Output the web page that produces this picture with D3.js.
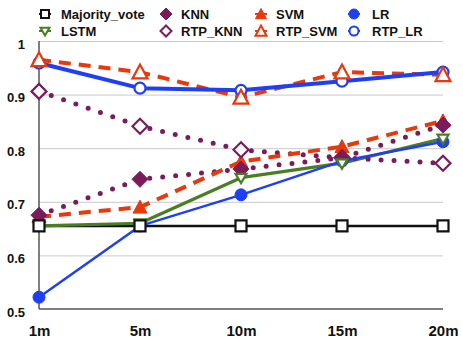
<!DOCTYPE html>
<html>
<head>
<meta charset="utf-8">
<script src="https://cdn.jsdelivr.net/npm/d3@7"></script>
<style>
  html, body { margin: 0; padding: 0; background: #fff; }
  svg { display: block; font-family: "Liberation Sans", Arial, Helvetica, sans-serif; font-weight: bold; }
</style>
</head>
<body>
<svg id="chart" width="463" height="339"></svg>
<script>
// Time windows on the x axis
const windows = ["1m", "5m", "10m", "15m", "20m"];
const yTicks = [0.5, 0.6, 0.7, 0.8, 0.9, 1];

// Accuracy per model and window
const majorityVote = [0.655, 0.655, 0.655, 0.655, 0.655];
const lstm   = [0.655, 0.660, 0.745, 0.772, 0.818];
const knn    = [0.675, 0.742, 0.761, 0.782, 0.843];
const rtpKnn = [0.906, 0.841, 0.797, 0.782, 0.772];
const svm    = [0.672, 0.690, 0.775, 0.803, 0.851];
const rtpSvm = [0.965, 0.942, 0.895, 0.942, 0.937];
const lr     = [0.522, 0.655, 0.713, 0.776, 0.812];
const rtpLr  = [0.959, 0.912, 0.908, 0.925, 0.942];

const C = { black: "#111", green: "#4a7d24", purple: "#7a1c5c", red: "#e8390e", blue: "#1f3ff6" };

// Series styles: line look and marker look
const series = [
  { name: "Majority_vote", values: majorityVote, color: C.black, width: 2.5, dash: null, shape: "square", filled: false, ms: 11, ls: 8 },
  { name: "LSTM", values: lstm, color: C.green, width: 3.2, dash: null, shape: "tridown", filled: false, ms: 11, ls: 9 },
  { name: "KNN", values: knn, color: C.purple, width: 5, dash: "0 13", cap: "round", shape: "diamond", filled: true, ms: 16, ls: 12 },
  { name: "RTP_KNN", values: rtpKnn, color: C.purple, width: 5, dash: "0 13", cap: "round", shape: "diamond", filled: false, ms: 15, ls: 11 },
  { name: "SVM", values: svm, color: C.red, width: 4, dash: "12 8", shape: "triup", filled: true, ms: 14, ls: 11 },
  { name: "RTP_SVM", values: rtpSvm, color: C.red, width: 4, dash: "12 8", shape: "triup", filled: false, ms: 15, ls: 11 },
  { name: "LR", values: lr, color: C.blue, width: 2.5, dash: null, shape: "circle", filled: true, ms: 12, ls: 10 },
  { name: "RTP_LR", values: rtpLr, color: C.blue, width: 4, dash: null, shape: "circle", filled: false, ms: 11, ls: 9 }
];

const svg = d3.select("#chart");
const x = d3.scalePoint().domain(windows).range([39, 443]);
const y = d3.scaleLinear().domain([0.5, 1]).range([309, 41]);

// Gridlines
svg.append("g")
  .attr("transform", "translate(39,0)")
  .call(d3.axisLeft(y).tickValues(yTicks.filter(t => t > 0.5)).tickSize(-404).tickFormat(""))
  .call(g => g.select(".domain").remove())
  .call(g => g.selectAll(".tick line").attr("stroke", "#c9c9c9").attr("stroke-width", 1));

// Y axis labels
svg.append("g")
  .attr("transform", "translate(25,0)")
  .call(d3.axisLeft(y).tickValues(yTicks).tickSize(0).tickPadding(0).tickFormat(d => d === 1 ? "1" : d3.format(".1f")(d)))
  .call(g => g.select(".domain").remove())
  .call(g => g.selectAll("text").attr("font-size", 13).attr("font-family", "Liberation Sans, Arial, sans-serif")
    .attr("font-weight", "bold").attr("fill", "#111").attr("dy", "0.55em"));

// X axis labels
svg.append("g")
  .attr("transform", "translate(0,309)")
  .call(d3.axisBottom(x).tickSize(0))
  .call(g => g.select(".domain").remove())
  .call(g => g.selectAll("text").attr("font-size", 15).attr("font-family", "Liberation Sans, Arial, sans-serif")
    .attr("font-weight", "bold").attr("fill", "#111").attr("y", 26.5).attr("dy", 0));

// Axis frame lines
svg.append("line").attr("x1", 39).attr("x2", 39).attr("y1", y(1)).attr("y2", y(0.5))
  .attr("stroke", "#555").attr("stroke-width", 1.5);
svg.append("line").attr("x1", 39).attr("x2", 443).attr("y1", y(0.5)).attr("y2", y(0.5))
  .attr("stroke", "#555").attr("stroke-width", 1.5);

function markerPath(shape, s) {
  const h = s / 2;
  switch (shape) {
    case "square": return `M${-h},${-h}H${h}V${h}H${-h}Z`;
    case "diamond": return `M0,${-h}L${h},0L0,${h}L${-h},0Z`;
    case "triup": return `M0,${-h}L${h},${h * 0.85}L${-h},${h * 0.85}Z`;
    case "tridown": return `M0,${h}L${h},${-h * 0.7}L${-h},${-h * 0.7}Z`;
    case "circle": return d3.arc()({ innerRadius: 0, outerRadius: h, startAngle: 0, endAngle: 2 * Math.PI });
  }
}

const line = d3.line().x((d, i) => x(windows[i])).y(d => y(d));

// Lines
series.forEach(s => {
  svg.append("path")
    .attr("d", line(s.values))
    .attr("fill", "none")
    .attr("stroke", s.color)
    .attr("stroke-width", s.width)
    .attr("stroke-dasharray", s.dash)
    .attr("stroke-linecap", s.cap || "butt")
    .attr("stroke-linejoin", "round");
});

// Markers (baseline drawn on top)
series.slice().reverse().forEach(s => {
  svg.append("g").selectAll("path")
    .data(s.values)
    .join("path")
    .attr("transform", (d, i) => `translate(${x(windows[i])},${y(d)})`)
    .attr("d", markerPath(s.shape, s.ms))
    .attr("fill", s.filled ? s.color : "#fff")
    .attr("stroke", s.color)
    .attr("stroke-width", s.filled ? 1 : 2.2);
});

// Legend: 4 columns x 2 rows
const legendMarkX = [45, 166, 261, 354];
const legendTextX = [61, 181, 276, 372];
series.forEach((s, i) => {
  const c = Math.floor(i / 2), r = i % 2;
  const lx = legendMarkX[c], ly = 14 + r * 17;
  svg.append("line")
    .attr("x1", lx - 6).attr("x2", lx + 6).attr("y1", ly).attr("y2", ly)
    .attr("stroke", s.color).attr("stroke-width", 2);
  svg.append("path")
    .attr("transform", `translate(${lx},${ly})`)
    .attr("d", markerPath(s.shape, s.ls))
    .attr("fill", s.filled ? s.color : "#fff")
    .attr("stroke", s.color)
    .attr("stroke-width", s.filled ? 1 : 2);
  svg.append("text")
    .attr("x", legendTextX[c])
    .attr("y", ly + 4.5)
    .attr("font-size", 13)
    .attr("fill", "#111")
    .text(s.name);
});
</script>
</body>
</html>
